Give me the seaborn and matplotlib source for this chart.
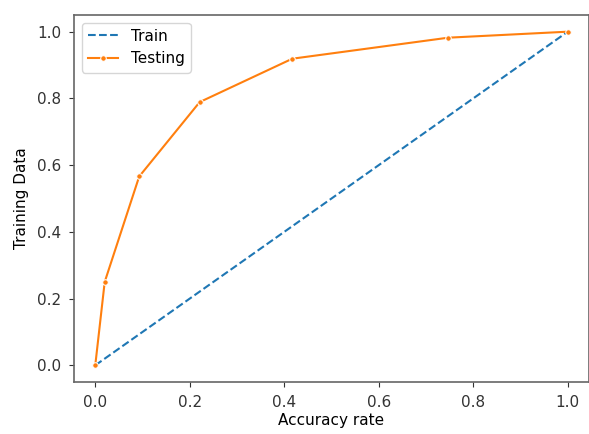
import matplotlib
matplotlib.use("Agg")
import matplotlib.pyplot as plt
import seaborn as sns
import pandas as pd

# Data
train_x = [0.0, 1.0]
train_y = [0.0, 1.0]
test_x = [0.0, 0.02, 0.093, 0.221, 0.417, 0.747, 1.0]
test_y = [0.0, 0.25, 0.566, 0.789, 0.919, 0.982, 1.0]
series_labels = ["Train", "Testing"]
x_label = "Accuracy rate"
y_label = "Training Data"

plt.rcParams['font.family'] = ['DejaVu Sans']
plt.rcParams['font.size'] = 11

fig = plt.figure(figsize=(5.89, 4.34), dpi=100)
W, H = 589, 434
left, right, top, bottom = 74, 589, 15, 382
ax = fig.add_axes([left / W, (H - bottom) / H, (right - left) / W, (bottom - top) / H])

df_train = pd.DataFrame({"x": train_x, "y": train_y})
df_test = pd.DataFrame({"x": test_x, "y": test_y})

sns.lineplot(data=df_train, x="x", y="y", ax=ax, linestyle="--", color="#1f77b4",
             label=series_labels[0], sort=False)
sns.lineplot(data=df_test, x="x", y="y", ax=ax, marker=".", color="#ff7f0e",
             label=series_labels[1], sort=False, markersize=8)

ax.set_xlim(-0.045, 1.045)
ax.set_ylim(-0.05, 1.05)
ax.set_xticks([0.0, 0.2, 0.4, 0.6, 0.8, 1.0])
ax.set_yticks([0.0, 0.2, 0.4, 0.6, 0.8, 1.0])
ax.set_xlabel(x_label, fontsize=11, labelpad=2)
ax.set_ylabel(y_label, fontsize=11, labelpad=6)
ax.tick_params(labelsize=11, colors="#333333")
ax.tick_params(axis="x", pad=6)
ax.tick_params(axis="y", pad=5.5)
for s in ax.spines.values():
    s.set_color("#666666")
    s.set_linewidth(1.2)
ax.legend(loc="upper left", fontsize=11)

fig.savefig("out.png", dpi=100)
